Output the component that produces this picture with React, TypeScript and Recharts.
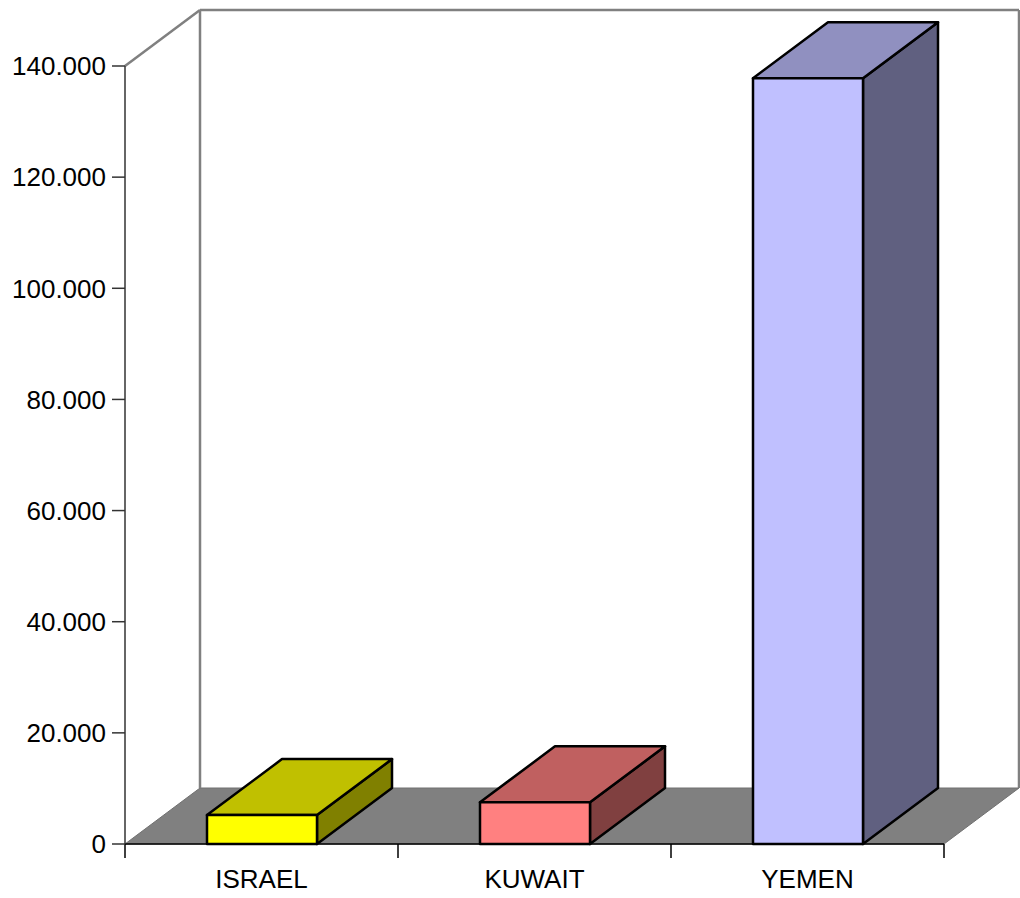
import React from 'react';
import { BarChart, Bar, XAxis, YAxis, ReferenceArea } from 'recharts';

const countries = ['ISRAEL', 'KUWAIT', 'YEMEN'];
const values = [5200, 7500, 137800];
const yTicks = [0, 20000, 40000, 60000, 80000, 100000, 120000, 140000];

const frontColors = ['#ffff00', '#ff8080', '#c0c0ff'];
const topColors = ['#c0c000', '#c06060', '#9090c0'];
const sideColors = ['#808000', '#804040', '#606080'];

// 3D-Tiefe (Versatz nach hinten)
const DEPTH_X = 75;
const DEPTH_Y = 56;

const FONT = '"Liberation Sans", Arial, sans-serif';

const data = countries.map((name, i) => ({ name, value: values[i] }));

const formatThousands = (v: number) =>
  String(v).replace(/\B(?=(\d{3})+(?!\d))/g, '.');

function Box3D(props: any) {
  const { x, y, width, height, payload } = props;
  const i = countries.indexOf(payload?.name);
  const w = width;
  const h = height;
  const top = `${x},${y} ${x + w},${y} ${x + w + DEPTH_X},${y - DEPTH_Y} ${x + DEPTH_X},${y - DEPTH_Y}`;
  const side = `${x + w},${y} ${x + w + DEPTH_X},${y - DEPTH_Y} ${x + w + DEPTH_X},${y + h - DEPTH_Y} ${x + w},${y + h}`;
  return (
    <g stroke="#000" strokeWidth={2.5} strokeLinejoin="round">
      <polygon points={side} fill={sideColors[i]} />
      <polygon points={top} fill={topColors[i]} />
      <rect x={x} y={y} width={w} height={h} fill={frontColors[i]} />
    </g>
  );
}

// Boden, Rückwand und Kategorie-Striche aus der Plotfläche
function Walls(props: any) {
  const { x, y, width, height } = props;
  const bottom = y + height;
  const floor = `${x},${bottom} ${x + width},${bottom} ${x + width + DEPTH_X},${bottom - DEPTH_Y} ${x + DEPTH_X},${bottom - DEPTH_Y}`;
  const n = countries.length;
  return (
    <g>
      <polygon points={floor} fill="#808080" stroke="#707070" strokeWidth={1} />
      <g stroke="#808080" strokeWidth={2.5} fill="none">
        <line x1={x} y1={y} x2={x + DEPTH_X} y2={y - DEPTH_Y} />
        <line x1={x + DEPTH_X} y1={y - DEPTH_Y} x2={x + DEPTH_X} y2={bottom - DEPTH_Y} />
        <line x1={x + DEPTH_X} y1={y - DEPTH_Y} x2={x + width + DEPTH_X} y2={y - DEPTH_Y} />
        <line x1={x + width + DEPTH_X} y1={y - DEPTH_Y} x2={x + width + DEPTH_X} y2={bottom - DEPTH_Y} />
      </g>
      {Array.from({ length: n + 1 }, (_, k) => (
        <line
          key={k}
          x1={x + (k * width) / n}
          y1={bottom}
          x2={x + (k * width) / n}
          y2={bottom + 14}
          stroke="#000"
          strokeWidth={1.5}
        />
      ))}
    </g>
  );
}

export default function App() {
  return (
    <div style={{ position: 'absolute', left: 0, top: 0, width: 1020, height: 898, background: '#fff' }}>
      <BarChart
        width={1020}
        height={898}
        data={data}
        margin={{ top: 66, right: 76, bottom: 14, left: 0 }}
      >
        <ReferenceArea y1={0} y2={140000} shape={<Walls />} ifOverflow="visible" />
        <XAxis
          dataKey="name"
          height={40}
          axisLine={{ stroke: '#000', strokeWidth: 1.5 }}
          tickLine={false}
          tickSize={0}
          tickMargin={26}
          tick={{ fill: '#000', fontSize: 26, fontFamily: FONT }}
        />
        <YAxis
          width={125}
          domain={[0, 140000]}
          ticks={yTicks}
          interval={0}
          tickFormatter={formatThousands}
          axisLine={{ stroke: '#333', strokeWidth: 1.5 }}
          tickLine={{ stroke: '#333', strokeWidth: 1.5 }}
          tickSize={13}
          tickMargin={6}
          tick={{ fill: '#000', fontSize: 26, fontFamily: FONT }}
        />
        <Bar dataKey="value" barSize={110} shape={<Box3D />} isAnimationActive={false} />
      </BarChart>
    </div>
  );
}
